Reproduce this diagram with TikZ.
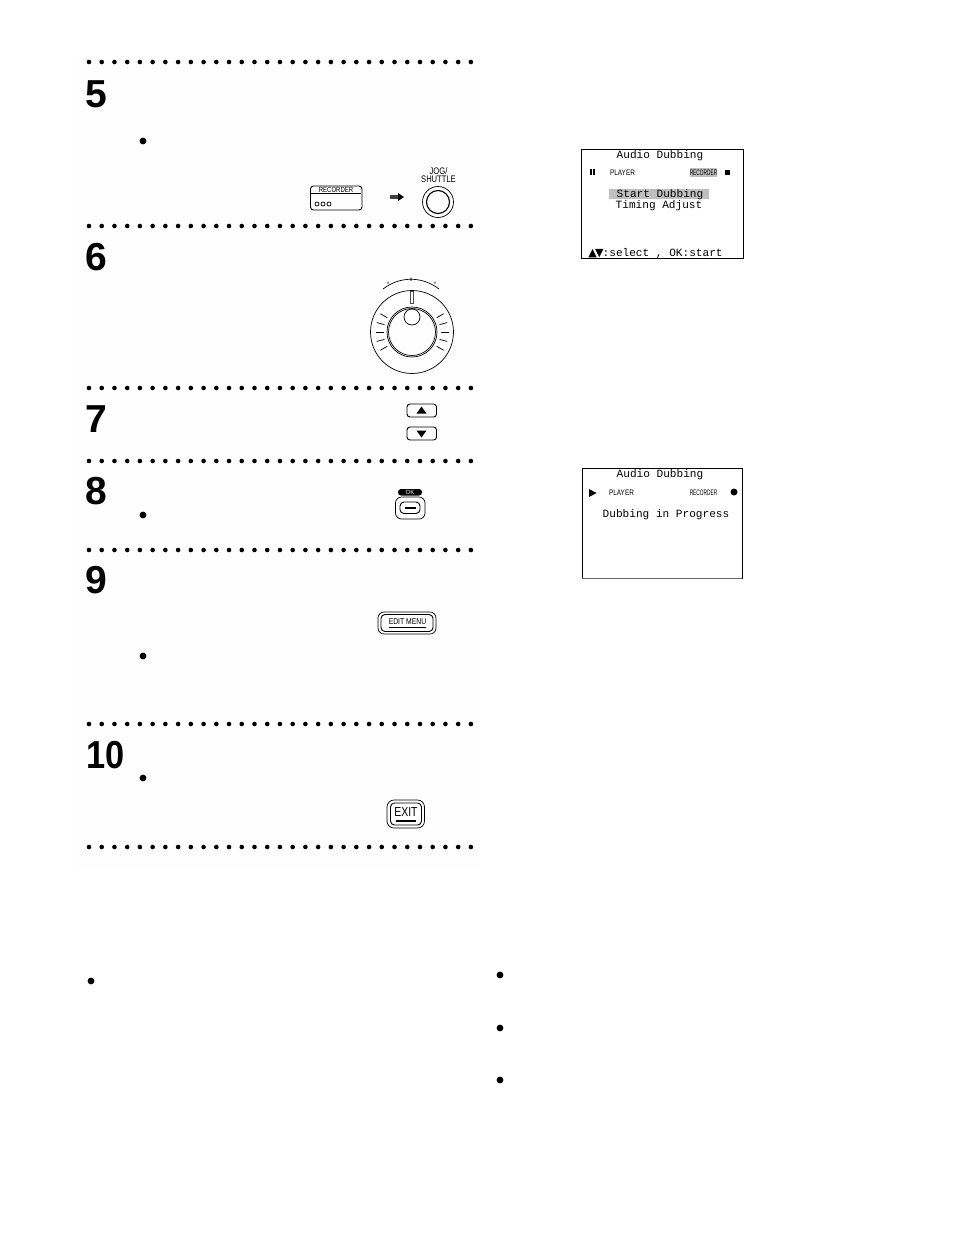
\documentclass[tikz,border=0pt]{standalone}
\usepackage{fontspec}
\setmainfont{Liberation Sans}
\setmonofont{Liberation Mono}
\newfontfamily\narrowfont[FakeStretch=0.8]{Liberation Sans}
\newfontfamily\tightfont[FakeStretch=0.6]{Liberation Sans}
\newfontfamily\tenfont[FakeStretch=0.88]{Liberation Sans}
\newfontfamily\symbolfont{DejaVu Sans}
\newcommand{\osdarrows}{\makebox[6.67pt]{\symbolfont ▲}\makebox[6.67pt]{\symbolfont ▼}}
\tikzset{
    stepnum/.style={font=\fontsize{39}{39}\selectfont\bfseries, inner sep=0pt},
    osd/.style={font=\fontsize{11.1}{11}\ttfamily, inner sep=0pt, anchor=base},
    osdsmall/.style={font=\fontsize{8}{8}\narrowfont, inner sep=0pt},
    osdtight/.style={font=\fontsize{8}{8}\tightfont, inner sep=0pt},
    keylabel/.style={font=\fontsize{8.5}{9}\narrowfont, inner sep=0pt},
    tinylabel/.style={font=\fontsize{5}{5}\selectfont, inner sep=0pt},
    keybox/.style={draw, line width=0.9pt, rounded corners=3pt}
}
\begin{document}
\begin{tikzpicture}[x=1pt, y=-1pt, line width=0.7pt]
            \useasboundingbox (0, 0) rectangle (954, 1235);
            \fill[white] (0, 0) rectangle (954, 1235);
            \fill[black!0.5] (78, 58) rectangle (480, 870);

            \foreach \rowy in {62, 226, 388, 461, 550, 724, 847} {
                \foreach \dotn in {0, ..., 30} {
                    \fill (89 + 12.73 * \dotn, \rowy) circle (2.3);
                }
            }

            \foreach \num/\numx/\numy in {5/96.5/94, 6/96.5/257, 7/96.5/419, 8/96.5/491, 9/96.5/580} {
                \node[stepnum] (step\num) at (\numx, \numy) {\num};
            }
            \node[stepnum, font=\fontsize{39}{39}\tenfont\bfseries] (step10) at (105.5, 755) {10};

            \foreach \bulx/\buly in {143/141, 143/515, 143/656, 143/778, 91/981, 500/975, 500/1028, 500/1080} {
                \fill (\bulx, \buly) circle (3.4);
            }

            \draw[keybox] (310.5, 186) rectangle (362, 210);
            \draw (311, 193.5) -- (361, 193.5);
            \node[keylabel, font=\fontsize{7.5}{8}\narrowfont] (recorderKey) at (336, 190) {RECORDER};
            \foreach \ledx in {317, 323, 329} {
                \draw (\ledx, 204) circle (2);
            }
            \fill[black!75] (390, 195.2) rectangle (398, 198.8);
            \fill (398, 193) -- (404, 197) -- (398, 201) -- cycle;
            \node[font=\fontsize{9.5}{8.5}\narrowfont, align=center, inner sep=0pt] (jogLabel) at (438.5, 175) {JOG/\\SHUTTLE};
            \draw (438, 202) circle (15.5);
            \draw[line width=1.1pt] (438, 202) circle (11.5);

            \draw (383, 289) .. controls (400, 276) and (422, 276) .. (439, 289);
            \node[tinylabel] (jogRev) at (388, 283) {<<};
            \node[tinylabel] (jogPause) at (411, 280) {II};
            \node[tinylabel] (jogFwd) at (435, 283) {>>};
            \draw (412, 332) circle (41.5);
            \draw (412, 332) circle (25);
            \draw (412, 332) circle (23.5);
            \fill[white] (412, 317) circle (8);
            \draw (412, 317) circle (8);
            \draw[black!70] (410, 291.5) rectangle (413, 303);
            \foreach \tickang in {-30, -15, 0, 15, 30} {
                \draw (412 + 28.5 * cos \tickang, 332 + 28.5 * sin \tickang) -- (412 + 36.5 * cos \tickang, 332 + 36.5 * sin \tickang);
                \draw (412 - 28.5 * cos \tickang, 332 + 28.5 * sin \tickang) -- (412 - 36.5 * cos \tickang, 332 + 36.5 * sin \tickang);
            }

            \draw[keybox] (407, 404) rectangle (436.5, 417);
            \fill (416.5, 413.5) -- (421.5, 406.5) -- (426.5, 413.5) -- cycle;
            \draw[keybox] (407, 427) rectangle (436.5, 440);
            \fill (416.5, 430.5) -- (421.5, 437.5) -- (426.5, 430.5) -- cycle;

            \fill[rounded corners=3pt] (398, 489) rectangle (422, 495.5);
            \node[font=\fontsize{6}{6}\selectfont, text=white, inner sep=0pt] (okLabel) at (410, 492.3) {OK};
            \draw[rounded corners=6pt] (395.5, 497) rectangle (425, 519);
            \draw[keybox, rounded corners=4pt] (400, 502) rectangle (420, 513.5);
            \draw[line width=1.5pt] (405, 508) -- (416, 508);

            \draw[rounded corners=6pt] (378, 612) rectangle (436, 634);
            \draw[keybox, rounded corners=4pt] (381, 614.5) rectangle (433, 631.5);
            \node[keylabel] (editKey) at (407.5, 621.5) {EDIT MENU};
            \draw[line width=1.2pt] (389, 627.5) -- (426, 627.5);

            \draw[rounded corners=7pt] (387, 800) rectangle (424.5, 828);
            \draw[keybox, rounded corners=4pt] (390.5, 803) rectangle (421.5, 825);
            \node[font=\fontsize{13}{13}\narrowfont, inner sep=0pt] (exitKey) at (406, 812.5) {EXIT};
            \draw[line width=1.5pt] (396, 821) -- (416, 821);

            \draw (581, 149) rectangle (743, 258);
            \fill[black!25] (609, 189) rectangle (709, 199);
            \fill[black!25] (690, 168) rectangle (717, 177);
            \node[osd] (titleA) at (660, 158) {Audio Dubbing};
            \fill (589.5, 169) rectangle (591.5, 175);
            \fill (592.5, 169) rectangle (594.5, 175);
            \node[osdsmall] (playerA) at (622.5, 172.5) {PLAYER};
            \node[osdtight] (recorderA) at (703.5, 172.5) {RECORDER};
            \fill (725, 170) rectangle (730, 175);
            \node[osd] (startA) at (660, 197.5) {Start Dubbing};
            \node[osd] (timingA) at (659, 208.5) {Timing Adjust};
            \node[osd, anchor=base west] (helpA) at (589, 256.5) {\osdarrows:select , OK:start};

            \draw (582, 468) rectangle (742, 578);
            \draw[black!60, line width=1pt] (582, 578) -- (742, 578);
            \node[osd] (titleB) at (660, 477.5) {Audio Dubbing};
            \fill (589, 489) -- (596.5, 493) -- (589, 497) -- cycle;
            \node[osdsmall] (playerB) at (621.5, 492.5) {PLAYER};
            \node[osdtight] (recorderB) at (703.5, 492.5) {RECORDER};
            \fill (734, 492) circle (3.5);
            \node[osd] (progressB) at (666, 517) {Dubbing in Progress};
\end{tikzpicture}
\end{document}
